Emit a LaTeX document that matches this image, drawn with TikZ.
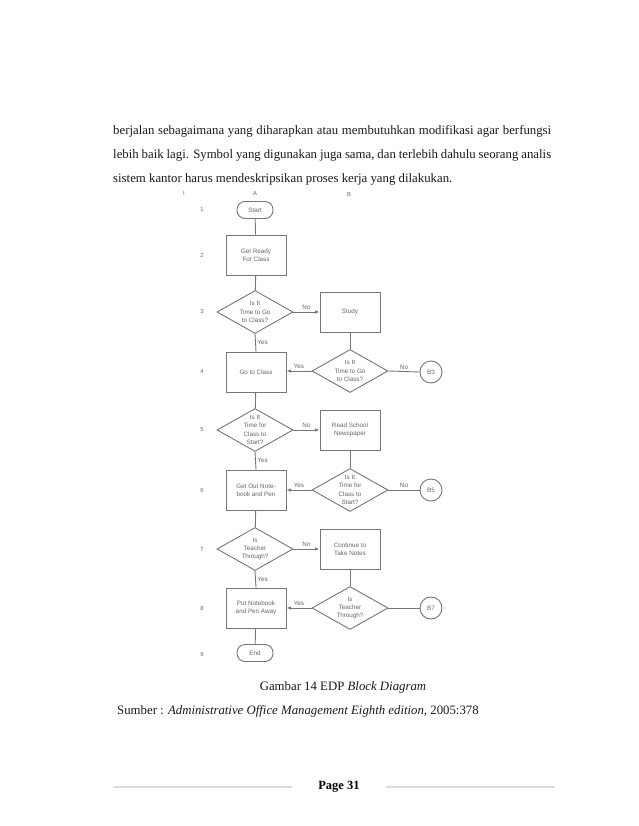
\documentclass[tikz,border=0pt]{standalone}
\usepackage{fontspec}
\setmainfont{Liberation Serif}
\newfontfamily\flowfont{Liberation Sans}
\usetikzlibrary{shapes.geometric,arrows.meta}
\definecolor{fcline}{HTML}{767676}
\definecolor{fctext}{HTML}{666666}
\definecolor{footline}{HTML}{D3DEE6}
\definecolor{bodytext}{HTML}{1A1A1A}
\begin{document}
\begin{tikzpicture}[x=1pt,y=-1pt,
  fc/.style={font=\flowfont\fontsize{6.3}{8}\selectfont, text=fctext, align=center},
  procbox/.style={fc, draw=fcline, line width=0.9pt, minimum width=60pt, minimum height=40pt, inner sep=0},
  term/.style={fc, draw=fcline, line width=0.9pt, rounded corners=8pt, minimum width=36pt, minimum height=17pt, inner sep=0},
  dia/.style={draw=fcline, line width=0.9pt, diamond, minimum width=76pt, minimum height=43pt, inner sep=0},
  dtext/.style={fc, font=\flowfont\fontsize{6.3}{8.3}\selectfont, inner sep=0},
  conn/.style={fc, draw=fcline, line width=0.9pt, circle, minimum size=22pt, inner sep=0},
  link/.style={draw=fcline, line width=0.9pt},
  arr/.style={link, -{Latex[length=4.5pt,width=3.4pt]}},
  lab/.style={fc, inner sep=1.5pt},
  rownum/.style={fc, font=\flowfont\fontsize{5.8}{6}\selectfont},
  body/.style={font=\fontsize{12.8}{15}\selectfont, text=bodytext, anchor=base west, inner sep=0},
]
\useasboundingbox (0,0) rectangle (638,826);
\fill[white] (0,0) rectangle (638,826);

% body text
\node[body] (l1) at (113,135) {\makebox[438pt][s]{berjalan sebagaimana yang diharapkan atau membutuhkan modifikasi agar berfungsi}};
\node[body] (l2) at (113,159) {\makebox[438pt][s]{lebih baik lagi. Symbol yang digunakan juga sama, dan terlebih dahulu seorang analis}};
\node[body] (l3) at (113,183) {sistem kantor harus mendeskripsikan proses kerja yang dilakukan.};

% column headers and row numbers
\node[rownum] (hI) at (184,194) {I};
\node[rownum] (hA) at (255,194) {A};
\node[rownum] (hB) at (349,195) {B};
\node[rownum] (r1) at (202,210) {1};
\node[rownum] (r2) at (202,255) {2};
\node[rownum] (r3) at (202,312) {3};
\node[rownum] (r4) at (202,372) {4};
\node[rownum] (r5) at (202,430) {5};
\node[rownum] (r6) at (202,490) {6};
\node[rownum] (r7) at (202,549) {7};
\node[rownum] (r8) at (202,608) {8};
\node[rownum] (r9) at (202,654) {9};

% column A
\node[term] (start) at (255,210) {Start};
\node[procbox] (ready) at (256,255) {Get Ready\\For Class};
\node[dia, label={[dtext]center:{Is It\\Time to Go\\to Class?}}] (d1) at (255,312) {};
\node[procbox] (goclass) at (256,372) {Go to Class};
\node[dia, label={[dtext]center:{Is It\\Time for\\Class to\\Start?}}] (d3) at (255,430) {};
\node[procbox] (getout) at (256,490) {Get Out Note-\\book and Pen};
\node[dia, label={[dtext]center:{Is\\Teacher\\Through?}}] (d5) at (255,549) {};
\node[procbox] (putaway) at (256,608) {Put Notebook\\and Pen Away};
\node[term] (end) at (255,653) {End};

% column B
\node[procbox] (study) at (350,312) {Study};
\node[dia, label={[dtext]center:{Is It\\Time to Go\\to Class?}}] (d2) at (350,371) {};
\node[procbox] (read) at (350,430) {Read School\\Newspaper};
\node[dia, label={[dtext]center:{Is It\\Time for\\Class to\\Start?}}] (d4) at (350,490) {};
\node[procbox] (cont) at (350,549) {Continue to\\Take Notes};
\node[dia, label={[dtext]center:{Is\\Teacher\\Through?}}] (d6) at (350,608) {};

% off-page connectors
\node[conn] (b3) at (431,372) {B3};
\node[conn] (b5) at (431,490) {B5};
\node[conn] (b7) at (431,608) {B7};

\draw[link] (start) -- (ready);
\draw[link] (ready) -- (d1);
\draw[arr] (d1.east) -- node[lab, above] {No} (study.west);
\draw[link] (d1.south) -- node[lab, right] {Yes} (goclass.north);
\draw[link] (study) -- (d2);
\draw[arr] (d2.west) -- node[lab, above] {Yes} (goclass.east |- d2.west);
\draw[link] (d2.east) -- node[lab, above] {No} (b3.west);
\draw[link] (goclass) -- (d3);
\draw[arr] (d3.east) -- node[lab, above] {No} (read.west);
\draw[link] (d3.south) -- node[lab, right] {Yes} (getout.north);
\draw[link] (read) -- (d4);
\draw[arr] (d4.west) -- node[lab, above] {Yes} (getout.east);
\draw[link] (d4.east) -- node[lab, above] {No} (b5.west);
\draw[link] (getout) -- (d5);
\draw[arr] (d5.east) -- node[lab, above] {No} (cont.west);
\draw[link] (d5.south) -- node[lab, right] {Yes} (putaway.north);
\draw[link] (cont) -- (d6);
\draw[arr] (d6.west) -- node[lab, above] {Yes} (putaway.east);
\draw[link] (d6.east) -- (b7.west);
\draw[link] (putaway) -- (end);

% caption and source
\node[font=\fontsize{12.8}{15}\selectfont, text=bodytext, anchor=base, inner sep=0] (cap) at (343,690) {Gambar 14 EDP \textit{Block Diagram}};
\node[body] (src) at (117,714) {Sumber : \textit{Administrative Office Management Eighth edition}, 2005:378};

% footer
\node[font=\bfseries\fontsize{12.5}{14}\selectfont, inner sep=0] (page) at (339,787) {Page 31};
\coordinate (fl1) at (113,787);
\coordinate (fr2) at (555,787);
\draw[footline, line width=1.6pt] (fl1) -- (292,787);
\draw[footline, line width=1.6pt] (386,787) -- (fr2);
\end{tikzpicture}
\end{document}
